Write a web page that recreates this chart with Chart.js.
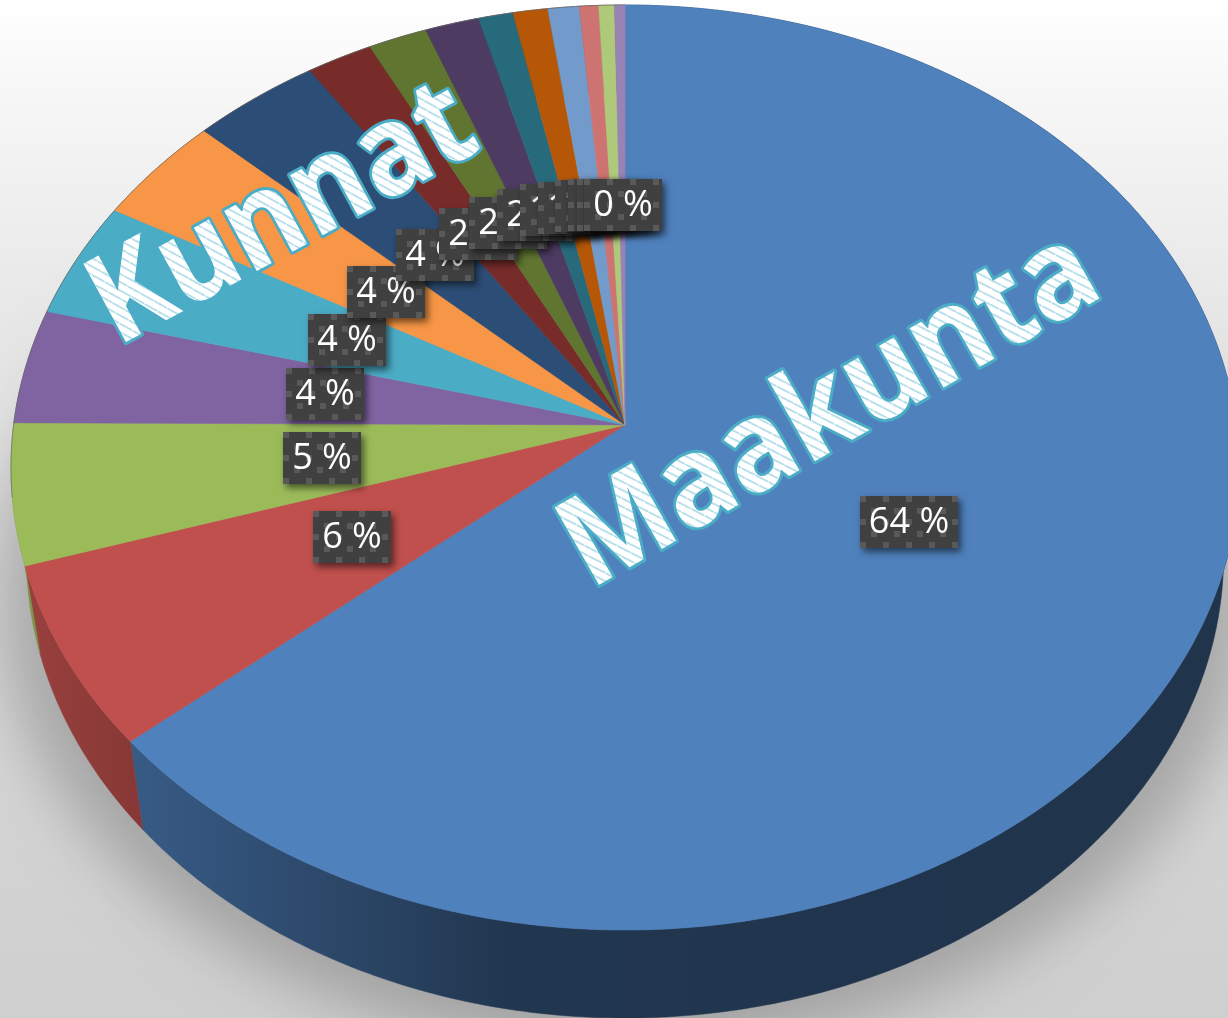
<!DOCTYPE html>
<html lang="fi">
<head>
    <meta charset="UTF-8">
    <title>Maakunta ja kunnat</title>
    <style>
        html, body { margin: 0; padding: 0; overflow: hidden; background: #fff; }
        canvas { display: block; }
    </style>
</head>
<body>
    <canvas id="pieChart" width="1228" height="1018"></canvas>
    <script src="https://cdn.jsdelivr.net/npm/chart.js"></script>
    <script>
        // Values (percent)
        const categories = ['1', '2', '3', '4', '5', '6', '7', '8', '9', '10', '11', '12', '13', '14', '15', '16'];
        const shares = [63.7, 6.4, 4.9, 4.0, 4.05, 3.8, 3.7, 1.9, 1.7, 1.55, 1.0, 1.0, 0.9, 0.55, 0.45, 0.3];
        const sliceColors = ['#4f81bd', '#c0504d', '#9bbb59', '#8064a2', '#4bacc6', '#f79646', '#2c4d75', '#772c2a',
            '#5f7530', '#4d3b62', '#276a7c', '#b65708', '#729aca', '#cd7371', '#afc97a', '#9983b5'];
        const bigLabels = ['Maakunta', 'Kunnat'];

        // Tilt of the pie: the disc is projected, so its centre sits above the middle of the ellipse
        const TILT = -0.0919, SCALE_X = 0.999, SCALE_Y = 0.7494;
        const WALL_DROP = 88, WALL_SHRINK = 0.975;

        function project(arc, angle, radiusFrac) {
            const u = Math.cos(angle) * radiusFrac, v = Math.sin(angle) * radiusFrac;
            const w = 1 + TILT * v;
            return {
                x: arc.x + arc.outerRadius * SCALE_X * u / w,
                y: arc.y + arc.outerRadius * SCALE_Y * v / w
            };
        }
        function dropped(arc, p) {
            return { x: arc.x + (p.x - arc.x) * WALL_SHRINK, y: p.y + WALL_DROP };
        }
        function rimPoints(arc, start, end) {
            const pts = [];
            const steps = Math.max(2, Math.ceil((end - start) / 0.01));
            for (let i = 0; i <= steps; i++) {
                pts.push(project(arc, start + (end - start) * i / steps, 1));
            }
            return pts;
        }
        function shade(hex, f) {
            const n = parseInt(hex.slice(1), 16);
            return `rgb(${(n >> 16) * f},${((n >> 8) & 255) * f},${(n & 255) * f})`;
        }
        function wallFill(ctx, hex) {
            const g = ctx.createLinearGradient(0, 0, 1228, 0);
            g.addColorStop(0, shade(hex, 0.82));
            g.addColorStop(0.115, shade(hex, 0.7));
            g.addColorStop(0.42, shade(hex, 0.42));
            g.addColorStop(1, shade(hex, 0.4));
            return g;
        }

        const pie3d = {
            id: 'pie3d',
            beforeDraw(chart) {
                const { ctx, width, height } = chart;
                const g = ctx.createLinearGradient(0, 0, 0, height);
                g.addColorStop(0, '#ffffff');
                g.addColorStop(0.1, '#f6f6f6');
                g.addColorStop(0.3, '#e8e8e8');
                g.addColorStop(0.7, '#d6d6d6');
                g.addColorStop(1, '#cfcfcf');
                ctx.fillStyle = g;
                ctx.fillRect(0, 0, width, height);
            },
            beforeDatasetDraw(chart, args) {
                const { ctx } = chart;
                const arcs = args.meta.data;
                const first = arcs[0];
                ctx.save();

                // soft shadow under the disc, only the shadow of an off-canvas copy lands here
                const outline = rimPoints(first, 0, Math.PI * 2).map(p => dropped(first, p));
                ctx.save();
                ctx.shadowColor = 'rgba(0,0,0,0.22)';
                ctx.shadowBlur = 60;
                ctx.shadowOffsetX = 3000;
                ctx.fillStyle = '#000';
                ctx.beginPath();
                outline.forEach((p, i) => {
                    const x = first.x + (p.x - first.x) * 1.05 - 3000;
                    const y = p.y + 32;
                    i ? ctx.lineTo(x, y) : ctx.moveTo(x, y);
                });
                ctx.closePath();
                ctx.fill();
                ctx.restore();

                // walls, then the top face
                arcs.forEach((arc, i) => {
                    const top = rimPoints(arc, arc.startAngle, arc.endAngle);
                    ctx.beginPath();
                    top.forEach((p, k) => k ? ctx.lineTo(p.x, p.y) : ctx.moveTo(p.x, p.y));
                    top.slice().reverse().forEach(p => {
                        const q = dropped(arc, p);
                        ctx.lineTo(q.x, q.y);
                    });
                    ctx.closePath();
                    ctx.fillStyle = wallFill(ctx, sliceColors[i]);
                    ctx.strokeStyle = ctx.fillStyle;
                    ctx.lineWidth = 0.5;
                    ctx.fill();
                    ctx.stroke();
                });
                arcs.forEach((arc, i) => {
                    const top = rimPoints(arc, arc.startAngle, arc.endAngle);
                    const c = project(arc, 0, 0);
                    ctx.beginPath();
                    ctx.moveTo(c.x, c.y);
                    top.forEach(p => ctx.lineTo(p.x, p.y));
                    ctx.closePath();
                    ctx.fillStyle = sliceColors[i];
                    ctx.strokeStyle = sliceColors[i];
                    ctx.lineWidth = 0.5;
                    ctx.fill();
                    ctx.stroke();
                });

                // thin grey rim on the far side
                ctx.beginPath();
                rimPoints(first, Math.PI * 0.95, Math.PI * 1.5).forEach((p, k) => k ? ctx.lineTo(p.x, p.y) : ctx.moveTo(p.x, p.y));
                ctx.strokeStyle = 'rgba(110,110,110,0.7)';
                ctx.lineWidth = 1;
                ctx.stroke();
                ctx.restore();
                return false;
            },
            afterDatasetsDraw(chart) {
                const { ctx } = chart;
                const meta = chart.getDatasetMeta(0);
                drawWordArt(ctx, bigLabels[0], 590, 590, -29.8, 0.93);
                drawWordArt(ctx, bigLabels[1], 117, 347, -28.5, 0.91);
                meta.data.forEach((arc, i) => {
                    const mid = (arc.startAngle + arc.endAngle) / 2;
                    const p = project(arc, mid, 0.5);
                    drawValueLabel(ctx, Math.round(shares[i]) + ' %', p.x + 1, p.y - 1);
                });
            }
        };

        function stripePattern(ctx) {
            const size = 11;
            const tile = document.createElement('canvas');
            tile.width = size;
            tile.height = size;
            const t = tile.getContext('2d');
            t.fillStyle = '#ffffff';
            t.fillRect(0, 0, size, size);
            t.strokeStyle = '#a8d8e6';
            t.lineWidth = 1.6;
            t.beginPath();
            t.moveTo(-1, -1);
            t.lineTo(size + 1, size + 1);
            t.stroke();
            const pattern = ctx.createPattern(tile, 'repeat');
            pattern.setTransform(new DOMMatrix().rotate(10));
            return pattern;
        }

        function drawWordArt(ctx, text, x, y, deg, stretch) {
            ctx.save();
            ctx.translate(x, y);
            ctx.rotate(deg * Math.PI / 180);
            ctx.scale(stretch, 1);
            ctx.font = '700 125px "Open Sans"';
            ctx.textAlign = 'left';
            ctx.textBaseline = 'alphabetic';
            ctx.lineJoin = 'round';
            ctx.strokeStyle = '#4bacc6';
            ctx.lineWidth = 6;
            ctx.strokeText(text, 0, 0);
            ctx.fillStyle = stripePattern(ctx);
            ctx.fillText(text, 0, 0);
            ctx.restore();
        }

        function drawValueLabel(ctx, text, x, y) {
            ctx.save();
            ctx.font = '36px "Open Sans"';
            const w = Math.round(ctx.measureText(text).width + 18);
            const h = 52;
            const left = Math.round(x - w / 2), top = Math.round(y - h / 2);
            ctx.shadowColor = 'rgba(0,0,0,0.55)';
            ctx.shadowBlur = 7;
            ctx.shadowOffsetX = 3;
            ctx.shadowOffsetY = 4;
            ctx.fillStyle = '#404040';
            ctx.fillRect(left, top, w, h);
            ctx.shadowColor = 'transparent';
            // dotted texture of the label box
            ctx.fillStyle = '#595959';
            for (let sx = 0; sx + 6 <= w; sx += 23) {
                ctx.fillRect(left + sx, top, 6, 6);
                ctx.fillRect(left + sx, top + h - 6, 6, 6);
                ctx.fillRect(left + sx, top + 23, 6, 6);
                if (sx + 17 <= w) {
                    ctx.fillRect(left + sx + 11, top + 12, 6, 6);
                    ctx.fillRect(left + sx + 11, top + 35, 6, 6);
                }
            }
            ctx.fillStyle = '#ffffff';
            ctx.textAlign = 'center';
            ctx.textBaseline = 'middle';
            ctx.fillText(text, left + w / 2, top + h / 2 + 1);
            ctx.restore();
        }

        new Chart(document.getElementById('pieChart'), {
            type: 'pie',
            data: {
                labels: categories,
                datasets: [{
                    data: shares,
                    backgroundColor: sliceColors,
                    borderWidth: 0,
                    radius: 612,
                    clip: false
                }]
            },
            options: {
                responsive: false,
                animation: false,
                devicePixelRatio: 1,
                layout: { padding: { left: 22, bottom: 168 } },
                plugins: { legend: { display: false }, tooltip: { enabled: false } }
            },
            plugins: [pie3d]
        });
    </script>
</body>
</html>
